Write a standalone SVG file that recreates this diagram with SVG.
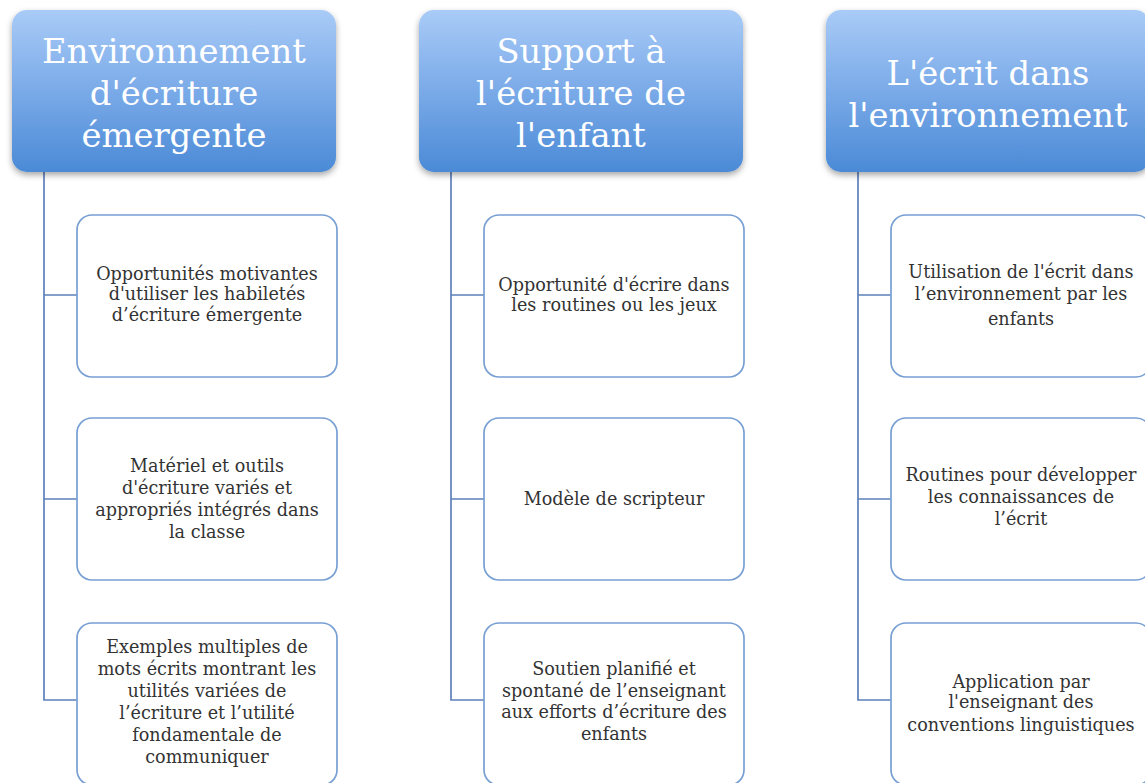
<svg xmlns="http://www.w3.org/2000/svg" width="1145" height="783" viewBox="0 0 1145 783">
<defs>
<linearGradient id="hg" x1="0" y1="0" x2="0" y2="1">
<stop offset="0" stop-color="#a9cbf7"/>
<stop offset="0.5" stop-color="#7aaae8"/>
<stop offset="1" stop-color="#4b8ad6"/>
</linearGradient>
<filter id="sh" x="-10%" y="-10%" width="120%" height="130%">
<feDropShadow dx="0" dy="3" stdDeviation="3" flood-color="#000" flood-opacity="0.35"/>
</filter>
<style>
.hd{fill:url(#hg);filter:url(#sh)}
.ht{font-family:"DejaVu Serif","Liberation Serif",serif;font-size:33.8px;fill:#fff;text-anchor:middle}
.bx{fill:#fff;stroke:#779fd3;stroke-width:1.7}
.bt{font-family:"DejaVu Serif","Liberation Serif",serif;font-size:17.6px;fill:#333;text-anchor:middle}
.cn{fill:none;stroke:#5d80bb;stroke-width:1.7}
</style>
</defs>
<rect width="1145" height="783" fill="#fff"/>
<g id="connectors">
<path class="cn" d="M44 172V700H77M44 295H77M44 499H77"/>
<path class="cn" d="M451 172V700H484M451 295H484M451 499H484"/>
<path class="cn" d="M858 172V700H891M858 295H891M858 499H891"/>
</g>
<g id="h1">
<rect class="hd" x="12" y="10" width="324" height="162" rx="15"/>
<text class="ht" x="174" y="63">Environnement</text>
<text class="ht" x="174" y="105">d'écriture</text>
<text class="ht" x="174" y="147">émergente</text>
</g>
<g id="h2">
<rect class="hd" x="419" y="10" width="324" height="162" rx="15"/>
<text class="ht" x="581" y="63">Support à</text>
<text class="ht" x="581" y="105">l'écriture de</text>
<text class="ht" x="581" y="147">l'enfant</text>
</g>
<g id="h3">
<rect class="hd" x="826" y="10" width="324" height="162" rx="15"/>
<text class="ht" x="988" y="85">L'écrit dans</text>
<text class="ht" x="988" y="127">l'environnement</text>
</g>
<g id="c1b1">
<rect class="bx" x="77" y="215" width="260" height="162" rx="15"/>
<text class="bt" x="207" y="280">Opportunités motivantes</text>
<text class="bt" x="207" y="300">d'utiliser les habiletés</text>
<text class="bt" x="207" y="321">d’écriture émergente</text>
</g>
<g id="c1b2">
<rect class="bx" x="77" y="418" width="260" height="162" rx="15"/>
<text class="bt" x="207" y="472">Matériel et outils</text>
<text class="bt" x="207" y="494">d'écriture variés et</text>
<text class="bt" x="207" y="516">appropriés intégrés dans</text>
<text class="bt" x="207" y="538">la classe</text>
</g>
<g id="c1b3">
<rect class="bx" x="77" y="623" width="260" height="162" rx="15"/>
<text class="bt" x="207" y="653">Exemples multiples de</text>
<text class="bt" x="207" y="675">mots écrits montrant les</text>
<text class="bt" x="207" y="697">utilités variées de</text>
<text class="bt" x="207" y="719">l’écriture et l’utilité</text>
<text class="bt" x="207" y="741">fondamentale de</text>
<text class="bt" x="207" y="763">communiquer</text>
</g>
<g id="c2b1">
<rect class="bx" x="484" y="215" width="260" height="162" rx="15"/>
<text class="bt" x="614" y="291">Opportunité d'écrire dans</text>
<text class="bt" x="614" y="311">les routines ou les jeux</text>
</g>
<g id="c2b2">
<rect class="bx" x="484" y="418" width="260" height="162" rx="15"/>
<text class="bt" x="614" y="505">Modèle de scripteur</text>
</g>
<g id="c2b3">
<rect class="bx" x="484" y="623" width="260" height="162" rx="15"/>
<text class="bt" x="614" y="675">Soutien planifié et</text>
<text class="bt" x="614" y="697">spontané de l’enseignant</text>
<text class="bt" x="614" y="718">aux efforts d’écriture des</text>
<text class="bt" x="614" y="740">enfants</text>
</g>
<g id="c3b1">
<rect class="bx" x="891" y="215" width="260" height="162" rx="15"/>
<text class="bt" x="1021" y="278">Utilisation de l'écrit dans</text>
<text class="bt" x="1021" y="300">l’environnement par les</text>
<text class="bt" x="1021" y="325">enfants</text>
</g>
<g id="c3b2">
<rect class="bx" x="891" y="418" width="260" height="162" rx="15"/>
<text class="bt" x="1021" y="481">Routines pour développer</text>
<text class="bt" x="1021" y="503">les connaissances de</text>
<text class="bt" x="1021" y="525">l’écrit</text>
</g>
<g id="c3b3">
<rect class="bx" x="891" y="623" width="260" height="162" rx="15"/>
<text class="bt" x="1021" y="688">Application par</text>
<text class="bt" x="1021" y="708">l'enseignant des</text>
<text class="bt" x="1021" y="731">conventions linguistiques</text>
</g>
</svg>
